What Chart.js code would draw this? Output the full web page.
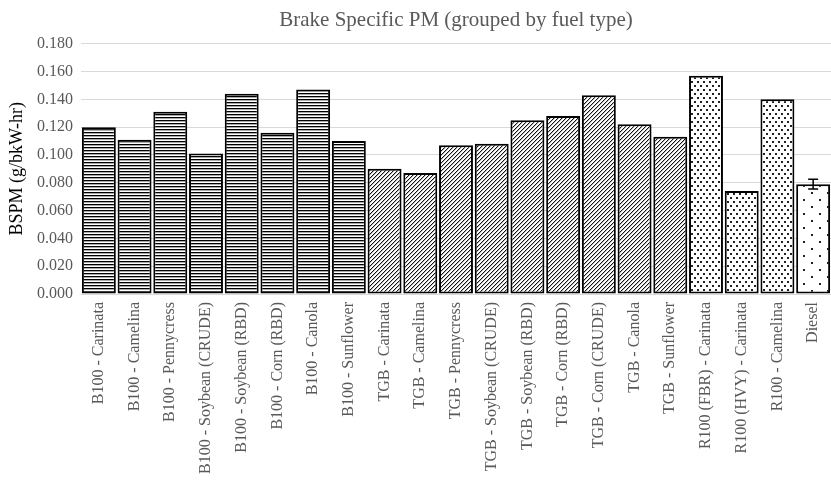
<!DOCTYPE html>
<html>
<head>
<meta charset="utf-8">
<title>Brake Specific PM</title>
<script src="https://cdn.jsdelivr.net/npm/chart.js@4.4.1/dist/chart.umd.min.js"></script>
<style>
  html, body { margin: 0; padding: 0; background: #fff; overflow: hidden; }
  #wrap { width: 831px; height: 482px; }
</style>
</head>
<body>
<div id="wrap"><canvas id="myChart" width="831" height="482"></canvas></div>
<script>
// datos
const categories = [
  "B100 - Carinata", "B100 - Camelina", "B100 - Pennycress", "B100 - Soybean (CRUDE)",
  "B100 - Soybean (RBD)", "B100 - Corn (RBD)", "B100 - Canola", "B100 - Sunflower",
  "TGB - Carinata", "TGB - Camelina", "TGB - Pennycress", "TGB - Soybean (CRUDE)",
  "TGB - Soybean (RBD)", "TGB - Corn (RBD)", "TGB - Corn (CRUDE)", "TGB - Canola",
  "TGB - Sunflower", "R100 (FBR) - Carinata", "R100 (HVY) - Carinata", "R100 - Camelina",
  "Diesel"
];
const fuelGroups = [
  "B100", "B100", "B100", "B100", "B100", "B100", "B100", "B100",
  "TGB", "TGB", "TGB", "TGB", "TGB", "TGB", "TGB", "TGB", "TGB",
  "R100", "R100", "R100",
  "Diesel"
];
const bspm = [
  0.120, 0.111, 0.131, 0.101, 0.144, 0.116, 0.147, 0.110,
  0.090, 0.087, 0.107, 0.108, 0.125, 0.128, 0.143, 0.122, 0.113,
  0.157, 0.074, 0.140,
  0.079
];
const bspmError = [
  0, 0, 0, 0, 0, 0, 0, 0,
  0, 0, 0, 0, 0, 0, 0, 0, 0,
  0, 0, 0,
  0.0035
];
const yTicks = [0, 0.02, 0.04, 0.06, 0.08, 0.1, 0.12, 0.14, 0.16, 0.18];

const serif = '"Liberation Serif", "Times New Roman", serif';

// patrones de relleno, uno por tipo de combustible
function makePattern(w, h, draw) {
  const c = document.createElement("canvas");
  c.width = w;
  c.height = h;
  const g = c.getContext("2d");
  g.fillStyle = "#fff";
  g.fillRect(0, 0, w, h);
  draw(g);
  return document.getElementById("myChart").getContext("2d").createPattern(c, "repeat");
}

const patterns = {
  B100: makePattern(4, 3, function(g) {
    g.fillStyle = "#000";
    g.fillRect(0, 0, 4, 1);
    g.fillStyle = "#aaa";
    g.fillRect(0, 1, 4, 1);
  }),
  TGB: makePattern(4, 4, function(g) {
    for (let i = 0; i < 4; i++) {
      g.fillStyle = "#111";
      g.fillRect(i, 3 - i, 1, 1);
      g.fillStyle = "#bbb";
      g.fillRect(i, (4 - i) % 4, 1, 1);
    }
  }),
  R100: makePattern(6, 8, function(g) {
    g.fillStyle = "#222";
    g.fillRect(1, 1, 2, 2);
    g.fillRect(4, 5, 2, 2);
  }),
  Diesel: makePattern(16, 14, function(g) {
    g.fillStyle = "#222";
    g.fillRect(3, 3, 2, 2);
    g.fillRect(11, 10, 2, 2);
  })
};

// barras de error (solo Diesel)
const errorBars = {
  id: "errorBars",
  afterDatasetsDraw: function(chart) {
    const ctx = chart.ctx;
    const meta = chart.getDatasetMeta(0);
    const y = chart.scales.y;
    ctx.save();
    ctx.strokeStyle = "#000";
    ctx.lineWidth = 1.5;
    meta.data.forEach(function(bar, i) {
      const e = bspmError[i];
      if (!e) return;
      const top = y.getPixelForValue(bspm[i] + e);
      const bot = y.getPixelForValue(bspm[i] - e);
      ctx.beginPath();
      ctx.moveTo(bar.x, top);
      ctx.lineTo(bar.x, bot);
      ctx.moveTo(bar.x - 5, top);
      ctx.lineTo(bar.x + 5, top);
      ctx.moveTo(bar.x - 5, bot);
      ctx.lineTo(bar.x + 5, bot);
      ctx.stroke();
    });
    ctx.restore();
  }
};

let ctx = document.getElementById("myChart").getContext("2d");
let myChart = new Chart(ctx, {
  type: "bar",
  data: {
    labels: categories,
    datasets: [{
      label: "BSPM",
      data: bspm,
      backgroundColor: fuelGroups.map(function(f) { return patterns[f]; }),
      borderColor: "#000",
      borderWidth: 2,
      borderSkipped: false,
      categoryPercentage: 1,
      barPercentage: 0.95
    }]
  },
  options: {
    responsive: false,
    animation: false,
    layout: { padding: 0 },
    plugins: {
      legend: { display: false },
      tooltip: { enabled: false },
      title: {
        display: true,
        fullSize: false,
        text: "Brake Specific PM (grouped by fuel type)",
        color: "#595959",
        font: { family: serif, size: 21, weight: "normal" },
        padding: { top: 8, bottom: 10.5 }
      }
    },
    scales: {
      x: {
        grid: { display: false, drawTicks: false },
        border: { display: true, color: "#d9d9d9", width: 1 },
        ticks: {
          color: "#595959",
          font: { family: serif, size: 16 },
          minRotation: 90,
          maxRotation: 90,
          autoSkip: false,
          padding: 8
        },
        afterFit: function(s) {
          s.height = 188;
          s.paddingLeft = 0;
          s.paddingRight = 0;
        }
      },
      y: {
        min: 0,
        max: 0.18,
        afterBuildTicks: function(s) {
          s.ticks = yTicks.map(function(v) { return { value: v }; });
        },
        grid: { color: "#d9d9d9", lineWidth: 1, drawTicks: false },
        border: { display: false },
        ticks: {
          color: "#595959",
          font: { family: serif, size: 16 },
          padding: 8,
          callback: function(v) { return v.toFixed(3); }
        },
        title: {
          display: true,
          text: "BSPM (g/bkW-hr)",
          color: "#000",
          font: { family: serif, size: 18 },
          padding: { top: 6, bottom: 4 }
        },
        afterFit: function(s) { s.width = 81; }
      }
    }
  },
  plugins: [errorBars]
});
</script>
</body>
</html>
